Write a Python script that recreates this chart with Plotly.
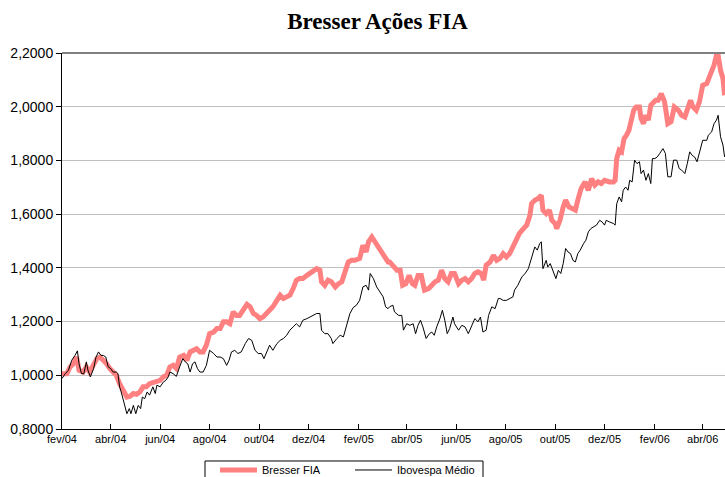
import pandas as pd
import plotly.graph_objects as go

# ---- data -------------------------------------------------------------
start_date = "2004-02-01"   # day 0 of the series (days elapsed below)

bresser_days = [0, 6, 10, 14, 18, 21, 26, 30, 34, 39, 43, 47, 51, 55, 59, 63, 67, 71, 76, 80,
                84, 88, 92, 96, 100, 104, 108, 113, 117, 121, 125, 129,
                133, 137, 141, 145, 150, 154, 158, 162, 166, 170, 174, 178, 182, 187, 191, 195, 199, 203, 207, 211,
                215, 219, 224, 228, 232, 236, 240, 244, 248, 252, 256, 260, 265,
                269, 273, 277, 281, 285, 289, 293, 297, 302, 306, 310, 314, 318, 320, 324, 328, 332, 337, 341, 345,
                349, 353, 357, 361, 367, 371, 375, 378, 382, 386, 390, 394, 398, 402,
                404, 408, 413, 417, 420, 424, 428, 432, 435, 439, 443, 447, 452, 456, 460, 464, 468, 472, 476, 480,
                484, 489, 493, 497, 501, 505, 509, 513, 517, 520, 523, 528, 532, 536,
                540, 544, 548, 552, 556, 560, 564, 569, 573, 577, 579, 583, 587, 591, 593, 597, 601, 604, 608, 610,
                614, 618, 621, 625, 629, 633, 636, 640, 645, 649, 653, 657, 661, 665, 669, 673,
                675, 680, 682, 684, 687, 690, 693, 696, 699, 702, 705, 708, 712, 714, 717, 720, 723, 726, 729, 732,
                735, 739, 743, 747, 751, 755, 760, 764, 768, 772, 775, 778, 782, 786, 790, 795, 798, 801, 804, 807,
                809, 812, 815, 817]
bresser_values = [1.006, 1.006, 1.031, 1.043, 1.068, 1.019, 1.012, 1.031, 1.012, 1.037,
                  1.062, 1.068, 1.056, 1.043, 1.025, 1.012, 1.000, 0.969, 0.944, 0.919,
                  0.922, 0.932, 0.929, 0.938, 0.957, 0.957, 0.969, 0.975, 0.975, 0.981, 0.994, 1.000,
                  1.031, 1.037, 1.025, 1.068, 1.074, 1.056, 1.087, 1.093, 1.099, 1.087,
                  1.087, 1.112, 1.155, 1.161, 1.174, 1.174, 1.199, 1.199, 1.192, 1.236,
                  1.223, 1.223, 1.242, 1.264, 1.255, 1.230, 1.223, 1.211, 1.217, 1.230, 1.242, 1.255, 1.279,
                  1.298, 1.286, 1.292, 1.298, 1.323, 1.354, 1.360, 1.360, 1.372, 1.379,
                  1.385, 1.397, 1.391, 1.348, 1.335, 1.354, 1.348, 1.329, 1.341, 1.348,
                  1.385, 1.422, 1.428, 1.428, 1.435, 1.484, 1.459, 1.497, 1.515, 1.497, 1.484, 1.466, 1.441, 1.422,
                  1.422, 1.410, 1.391, 1.391, 1.335, 1.341, 1.372, 1.341, 1.335, 1.372,
                  1.372, 1.317, 1.323, 1.335, 1.348, 1.354, 1.391, 1.360, 1.348, 1.379,
                  1.379, 1.341, 1.354, 1.360, 1.348, 1.360, 1.379, 1.385, 1.379, 1.354, 1.410, 1.422, 1.447, 1.428,
                  1.435, 1.453, 1.441, 1.453, 1.478, 1.509, 1.528, 1.546, 1.559, 1.596,
                  1.639, 1.652, 1.658, 1.670, 1.615, 1.602, 1.615, 1.577, 1.565, 1.546,
                  1.577, 1.627, 1.652, 1.627, 1.621, 1.615, 1.652, 1.695, 1.720, 1.689,
                  1.732, 1.708, 1.720, 1.714, 1.726, 1.720,
                  1.720, 1.720, 1.726, 1.807, 1.838, 1.832, 1.881, 1.894, 1.912, 1.950,
                  1.987, 1.999, 1.999, 1.956, 1.937, 1.968, 1.950, 2.006, 2.018, 2.024,
                  2.024, 2.049, 2.018, 1.937, 1.944, 1.999, 1.987, 1.968, 1.962, 1.993,
                  2.024, 1.999, 1.987, 2.018, 2.080, 2.086, 2.111, 2.124, 2.155, 2.192,
                  2.192, 2.136, 2.105, 2.043]

ibov_days = [0, 4, 8, 12, 16, 19, 21, 24, 27, 30, 32, 35, 39, 42, 45, 48, 51, 54, 57, 60,
             63, 67, 69, 71, 73, 76, 80, 83, 85, 88, 91, 94, 97, 99, 102, 105, 108, 112, 115, 117,
             121, 125, 128, 131,
             133, 137, 141, 145, 149, 152, 155, 158, 161, 164, 167, 170, 174, 178, 182, 187, 191, 195, 199, 203,
             206, 209, 213, 217, 221, 226, 230, 234, 238, 242, 246, 249, 252, 256, 260, 265,
             269, 273, 277, 281, 285, 289, 293, 297, 302, 306, 310, 314, 318, 320, 324, 328, 332, 334, 339, 343,
             347, 351, 355, 359, 363, 367, 371, 375, 378, 380, 384, 388, 392, 396, 399, 402,
             404, 408, 410, 415, 419, 421, 425, 429, 433, 436, 439, 442, 445, 449, 453, 456, 459, 462, 466, 469,
             472, 475, 478, 482, 484, 489, 493, 497, 501, 505, 509, 513, 516, 519, 523, 526, 530, 534, 538,
             540, 544, 548, 552, 556, 558, 562, 567, 571, 575, 578, 581, 583, 586, 589, 591, 593, 597, 599, 602,
             606, 609, 612, 615, 618, 621, 624, 627, 630, 633, 636, 639, 643, 646, 649, 652, 655, 659, 663, 666,
             669, 671,
             675, 680, 682, 684, 687, 690, 692, 695, 698, 700, 703, 706, 709, 712, 714, 717, 720, 723, 726, 728,
             731, 734, 737, 741, 744, 747, 751, 754, 758, 761, 764, 768, 771, 774, 777, 780, 783, 786, 790, 795,
             797, 801, 804, 807, 809, 812, 815, 817]
ibov_values = [0.988, 1.006, 1.019, 1.056, 1.074, 1.091, 1.043, 1.006, 1.006, 1.050,
               1.019, 0.994, 1.025, 1.068, 1.087, 1.074, 1.074, 1.068, 1.031, 1.025,
               1.012, 1.012, 1.006, 0.957, 0.938, 0.907, 0.857, 0.876, 0.857, 0.888,
               0.857, 0.888, 0.876, 0.919, 0.913, 0.938, 0.926, 0.957, 0.932, 0.963,
               0.957, 0.975, 0.981, 0.994,
               1.012, 1.006, 0.996, 1.031, 1.062, 1.050, 1.043, 1.012, 1.043, 1.050,
               1.025, 1.012, 1.012, 1.037, 1.093, 1.081, 1.068, 1.068, 1.062, 1.037,
               1.056, 1.087, 1.093, 1.081, 1.087, 1.118, 1.137, 1.130, 1.093, 1.081,
               1.081, 1.062, 1.081, 1.112, 1.093, 1.118,
               1.130, 1.137, 1.149, 1.168, 1.180, 1.192, 1.180, 1.205, 1.211, 1.217,
               1.223, 1.230, 1.230, 1.168, 1.155, 1.155, 1.137, 1.118, 1.137, 1.149,
               1.143, 1.192, 1.230, 1.252, 1.261, 1.279, 1.329, 1.335, 1.317, 1.379,
               1.360, 1.329, 1.310, 1.292, 1.255, 1.248,
               1.255, 1.261, 1.236, 1.223, 1.223, 1.168, 1.192, 1.186, 1.192, 1.155,
               1.186, 1.205, 1.180, 1.137, 1.155, 1.161, 1.149, 1.180, 1.211, 1.242,
               1.205, 1.155, 1.174, 1.217, 1.192, 1.168, 1.186, 1.180, 1.155, 1.180,
               1.211, 1.199, 1.217, 1.161, 1.168, 1.223, 1.255, 1.248, 1.286,
               1.286, 1.279, 1.279, 1.286, 1.292, 1.317, 1.335, 1.366, 1.379, 1.397,
               1.428, 1.466, 1.478, 1.466, 1.490, 1.497, 1.397, 1.428, 1.403, 1.416,
               1.379, 1.360, 1.391, 1.379, 1.416, 1.472, 1.459, 1.453, 1.428, 1.422,
               1.453, 1.466, 1.490, 1.503, 1.534, 1.546, 1.552, 1.559, 1.577, 1.571,
               1.559, 1.577,
               1.571, 1.565, 1.559, 1.639, 1.664, 1.646, 1.689, 1.701, 1.689, 1.726,
               1.720, 1.801, 1.788, 1.795, 1.751, 1.764, 1.726, 1.751, 1.714, 1.807,
               1.807, 1.813, 1.826, 1.844, 1.826, 1.739, 1.739, 1.801, 1.801, 1.770,
               1.764, 1.751, 1.788, 1.832, 1.819, 1.813, 1.795, 1.826, 1.875, 1.875,
               1.894, 1.906, 1.937, 1.950, 1.968, 1.888, 1.857, 1.813]

tick_dates = ["2004-02-01", "2004-04-01", "2004-06-01", "2004-08-01", "2004-10-01", "2004-12-01",
              "2005-02-01", "2005-04-01", "2005-06-01", "2005-08-01", "2005-10-01", "2005-12-01",
              "2006-02-01", "2006-04-01"]
tick_labels = ["fev/04", "abr/04", "jun/04", "ago/04", "out/04", "dez/04",
               "fev/05", "abr/05", "jun/05", "ago/05", "out/05", "dez/05",
               "fev/06", "abr/06"]
series_names = ["Bresser FIA", "Ibovespa Médio"]
title_text = "Bresser Ações FIA"

# ---- figure -----------------------------------------------------------
t0 = pd.Timestamp(start_date)
bresser_x = t0 + pd.to_timedelta(bresser_days, unit="D")
ibov_x = t0 + pd.to_timedelta(ibov_days, unit="D")

fig = go.Figure()
fig.add_trace(go.Scatter(x=bresser_x, y=bresser_values, mode="lines", name=series_names[0],
                         line=dict(color="#FF8080", width=5)))
fig.add_trace(go.Scatter(x=ibov_x, y=ibov_values, mode="lines", name=series_names[1],
                         line=dict(color="#000000", width=1)))

axis_font = dict(family="Liberation Sans, Arial, sans-serif", size=11, color="#000000")

fig.update_layout(
    width=725, height=477,
    margin=dict(l=62, r=0, t=53, b=48, autoexpand=False),
    paper_bgcolor="#FFFFFF", plot_bgcolor="#FFFFFF",
    separators=",.",
    title=dict(text="<b>" + title_text + "</b>", x=0.5207, xref="container", xanchor="center",
               y=0.973, yref="container", yanchor="top",
               font=dict(family="Liberation Serif, Times New Roman, serif", size=23, color="#000000")),
    xaxis=dict(type="date", range=[t0, t0 + pd.Timedelta(days=817.5)],
               tickmode="array", tickvals=tick_dates, ticktext=tick_labels,
               showgrid=False, zeroline=False, automargin=False,
               showline=True, linecolor="#000000", linewidth=1,
               ticks="inside", ticklen=5, tickcolor="#000000",
               tickfont=axis_font),
    yaxis=dict(range=[0.8, 2.2], dtick=0.2, tick0=0.8, tickformat=".4f",
               showgrid=True, gridcolor="#C0C0C0", gridwidth=1, zeroline=False, automargin=False,
               showline=True, linecolor="#000000", linewidth=1,
               ticks="outside", ticklen=5, tickcolor="#000000",
               tickfont=dict(family="Liberation Sans, Arial, sans-serif", size=14, color="#000000")),
    showlegend=True,
    legend=dict(orientation="h", x=0.2308, xanchor="left", y=-0.109, yanchor="middle",
                borderwidth=0, bgcolor="rgba(0,0,0,0)",
                font=dict(family="Liberation Sans, Arial, sans-serif", size=11, color="#000000"),
                itemwidth=37, entrywidth=83, entrywidthmode="pixels"),
    shapes=[
        dict(type="line", xref="paper", yref="paper", x0=0, x1=1, y0=1, y1=1,
             line=dict(color="#808080", width=2)),
        dict(type="rect", xref="paper", yref="paper", x0=0.2157, x1=0.635, y0=-0.0851, y1=-0.162,
             line=dict(color="#000000", width=1), fillcolor="rgba(0,0,0,0)", layer="below"),
    ],
)

# remove the page's default 8px body margin so the figure fills the window exactly
fig.write_html("out.html", config={"displayModeBar": False},
               post_script="document.body.style.margin='0px';")
